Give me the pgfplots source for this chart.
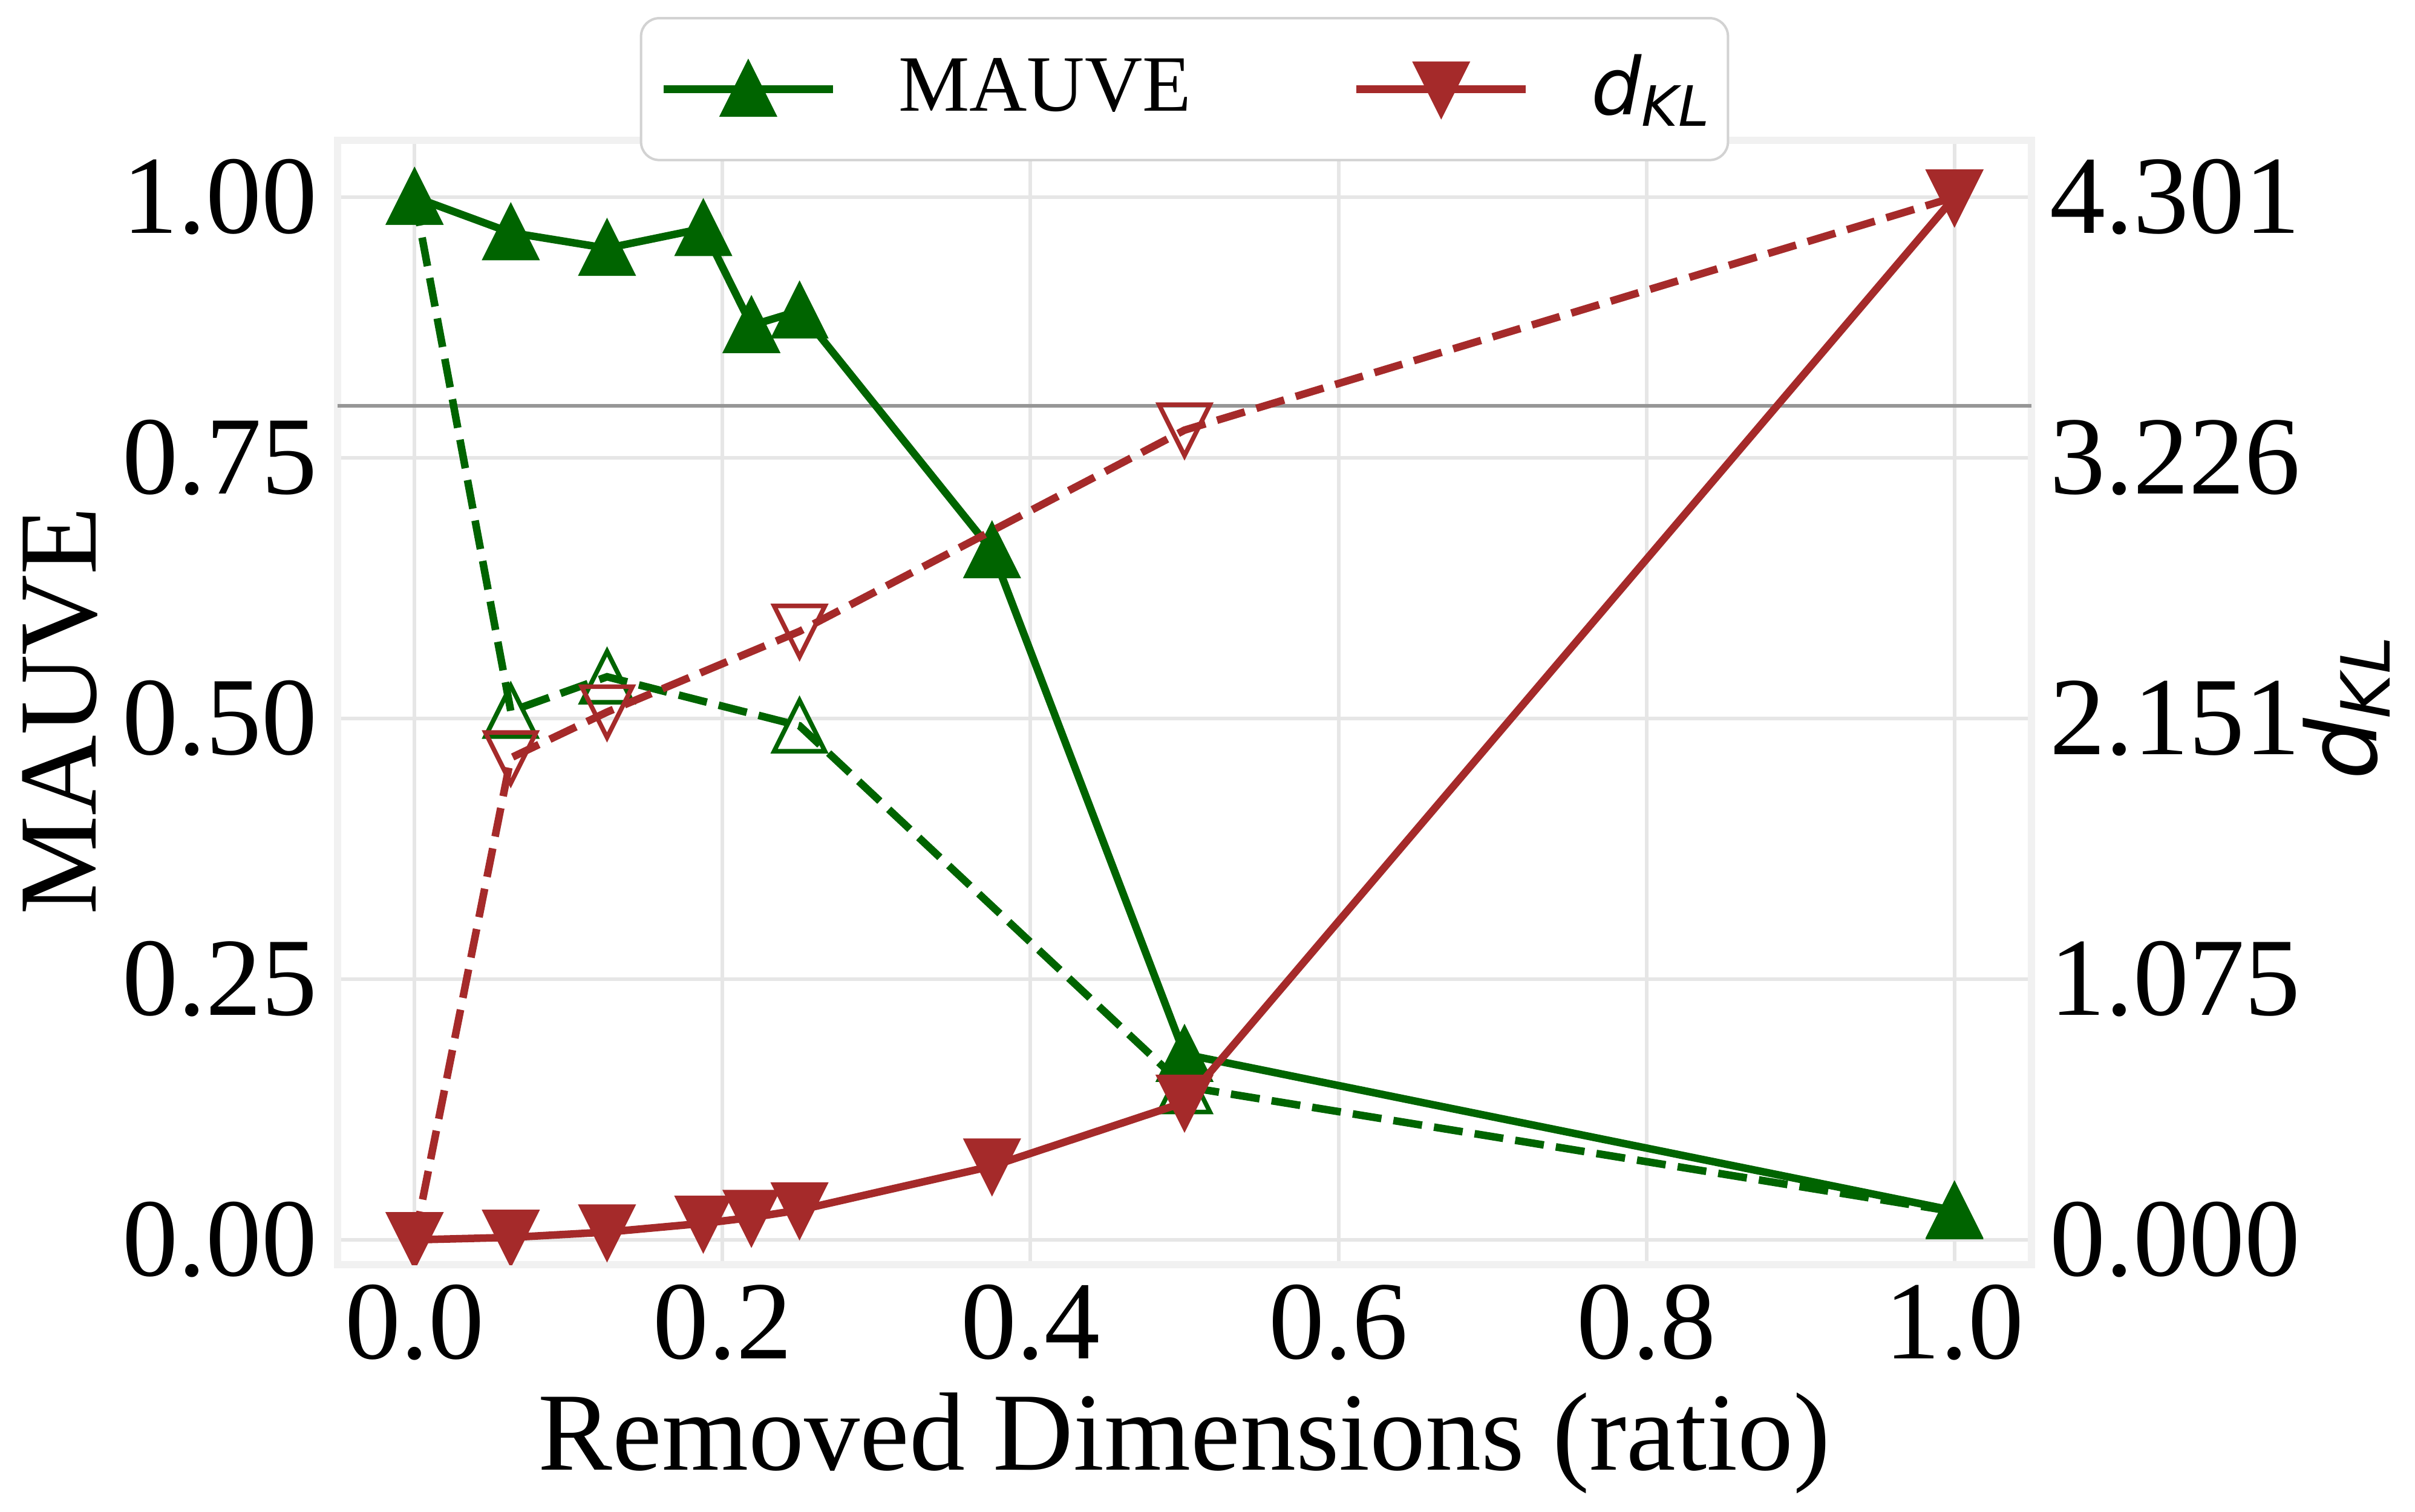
\documentclass[border=0pt]{standalone}
\usepackage{fontspec}
\setmainfont{Liberation Serif}
\newfontfamily\dejavu{DejaVu Sans}
\usepackage{pgfplots}
\pgfplotsset{compat=1.18}
\definecolor{mgreen}{HTML}{006400}
\definecolor{mred}{HTML}{A52A2A}
\definecolor{gridc}{RGB}{230,230,230}
\definecolor{framec}{RGB}{241,241,241}
\definecolor{hlinec}{RGB}{150,150,150}
\definecolor{legc}{RGB}{210,210,210}

\pgfdeclareplotmark{tup}{%
  \pgfpathmoveto{\pgfqpoint{0pt}{\pgfplotmarksize}}%
  \pgfpathlineto{\pgfqpoint{-\pgfplotmarksize}{-\pgfplotmarksize}}%
  \pgfpathlineto{\pgfqpoint{\pgfplotmarksize}{-\pgfplotmarksize}}%
  \pgfpathclose\pgfusepathqfillstroke}
\pgfdeclareplotmark{tupo}{%
  \pgfpathmoveto{\pgfqpoint{0pt}{\pgfplotmarksize}}%
  \pgfpathlineto{\pgfqpoint{-\pgfplotmarksize}{-\pgfplotmarksize}}%
  \pgfpathlineto{\pgfqpoint{\pgfplotmarksize}{-\pgfplotmarksize}}%
  \pgfpathclose\pgfusepathqstroke}
\pgfdeclareplotmark{tdn}{%
  \pgfpathmoveto{\pgfqpoint{0pt}{-\pgfplotmarksize}}%
  \pgfpathlineto{\pgfqpoint{-\pgfplotmarksize}{\pgfplotmarksize}}%
  \pgfpathlineto{\pgfqpoint{\pgfplotmarksize}{\pgfplotmarksize}}%
  \pgfpathclose\pgfusepathqfillstroke}
\pgfdeclareplotmark{tdno}{%
  \pgfpathmoveto{\pgfqpoint{0pt}{-\pgfplotmarksize}}%
  \pgfpathlineto{\pgfqpoint{-\pgfplotmarksize}{\pgfplotmarksize}}%
  \pgfpathlineto{\pgfqpoint{\pgfplotmarksize}{\pgfplotmarksize}}%
  \pgfpathclose\pgfusepathqstroke}

\newcommand\dklbig{{\dejavu\itshape\fontsize{16}{18}\selectfont d\raisebox{-2.25pt}{\fontsize{11.2}{12}\selectfont KL}}}
\newcommand\dklsmall{{\dejavu\itshape\fontsize{13.1}{15}\selectfont d\raisebox{-1.85pt}{\fontsize{9.2}{10}\selectfont KL}}}

\pgfplotstableread{
x y
0 1.000
0.0625 0.966
0.125 0.951
0.1875 0.970
0.21875 0.877
0.25 0.891
0.375 0.661
0.5 0.178
1.0 0.028
}\mauvesolid
\pgfplotstableread{
x y
0 1.000
0.0625 0.507
0.125 0.540
0.25 0.493
0.5 0.147
1.0 0.027
}\mauvedash
\pgfplotstableread{
x y
0 0.000
0.0625 0.010
0.125 0.032
0.1875 0.068
0.21875 0.092
0.25 0.123
0.375 0.304
0.5 0.567
1.0 4.301
}\dklsolid
\pgfplotstableread{
x y
0 0.000
0.0625 1.988
0.125 2.177
0.25 2.510
0.5 3.340
1.0 4.301
}\dkldash

\pgfplotsset{
  mystyle/.style={
    at={(55.8pt,40.8pt)}, anchor=south west,
    scale only axis, width=280pt, height=185.9pt,
    xmin=-0.05, xmax=1.05,
    major tick length=0pt,
    tick style={draw=none},
    clip marker paths=true,
    tick label style={font=\fontsize{18.4}{22}\selectfont, inner sep=0pt},
    /pgf/number format/assume math mode=true,
  },
  solidline/.style={line width=1.25pt, mark size=4.2pt, mark options={solid, line width=0.75pt}},
  dashline/.style={line width=1.25pt, dash pattern=on 4.8pt off 2.0pt, mark size=4.2pt, mark options={solid, line width=0.75pt}},
  legend image code/.code={\draw[mark repeat=2,mark phase=2,#1] plot coordinates {(0pt,0pt) (14pt,0pt) (28pt,0pt)};},
}

\begin{document}
\begin{tikzpicture}
\path[use as bounding box] (0,0) rectangle (399.2pt,249.9pt);
\begin{axis}[
  mystyle,
  ymin=-0.0238, ymax=1.0545,
  xtick={0,0.2,0.4,0.6,0.8,1.0},
  xticklabels={0.0,0.2,0.4,0.6,0.8,1.0},
  ytick={0,0.25,0.5,0.75,1},
  yticklabels={0.00,0.25,0.50,0.75,1.00},
  grid=major, grid style={gridc, line width=0.6pt},
  axis line style={framec, line width=1.2pt},
  xticklabel style={yshift=-3.1pt},
  yticklabel style={xshift=-3.1pt},
  xlabel={Removed Dimensions (ratio)},
  ylabel={MAUVE},
  every axis x label/.style={at={(axis description cs:0.5,-0.18236)}, anchor=base, inner sep=0pt, font=\fontsize{18.4}{22}\selectfont},
  every axis y label/.style={at={(axis description cs:-0.1639,0.4927)}, rotate=90, anchor=center, inner sep=0pt, font=\fontsize{18.4}{22}\selectfont},
  legend columns=2,
  legend cell align=left,
  legend style={
    at={(axis description cs:0.5,1.1097)}, anchor=north,
    draw=legc, line width=0.4pt, rounded corners=3pt, fill=white,
    inner xsep=3.1pt, inner ysep=6.0pt,
    font=\fontsize{13.2}{15}\selectfont,
    nodes={inner sep=0pt},
    /tikz/every odd column/.style={column sep=10.2pt},
    /tikz/every even column/.style={column sep=26.7pt},
  },
]
\addplot[hlinec, line width=0.6pt, forget plot] coordinates {(-0.05,0.8) (1.05,0.8)};
\addplot[mgreen, dashline, mark=tupo, forget plot] table[x=x,y=y] {\mauvedash};
\addplot[mgreen, solidline, mark=tup] table[x=x,y=y] {\mauvesolid};
\addlegendentry{MAUVE}
\addlegendimage{mred, solidline, mark=tdn}
\addlegendentry{\dklsmall}
\end{axis}
\begin{axis}[
  mystyle,
  ymin=-0.1024, ymax=4.5354,
  xtick=\empty,
  ytick={0,1.07525,2.1505,3.22575,4.301},
  yticklabels={0.000,1.075,2.151,3.226,4.301},
  yticklabel pos=right,
  axis line style={draw=none},
  yticklabel style={xshift=2.8pt, anchor=west},
  ylabel={\dklbig},
  every axis y label/.style={at={(axis description cs:1.2036,0.4949)}, rotate=90, anchor=base, inner sep=0pt},
]
\addplot[mred, dashline, mark=tdno] table[x=x,y=y] {\dkldash};
\addplot[mred, solidline, mark=tdn] table[x=x,y=y] {\dklsolid};
\end{axis}
\end{tikzpicture}
\end{document}
